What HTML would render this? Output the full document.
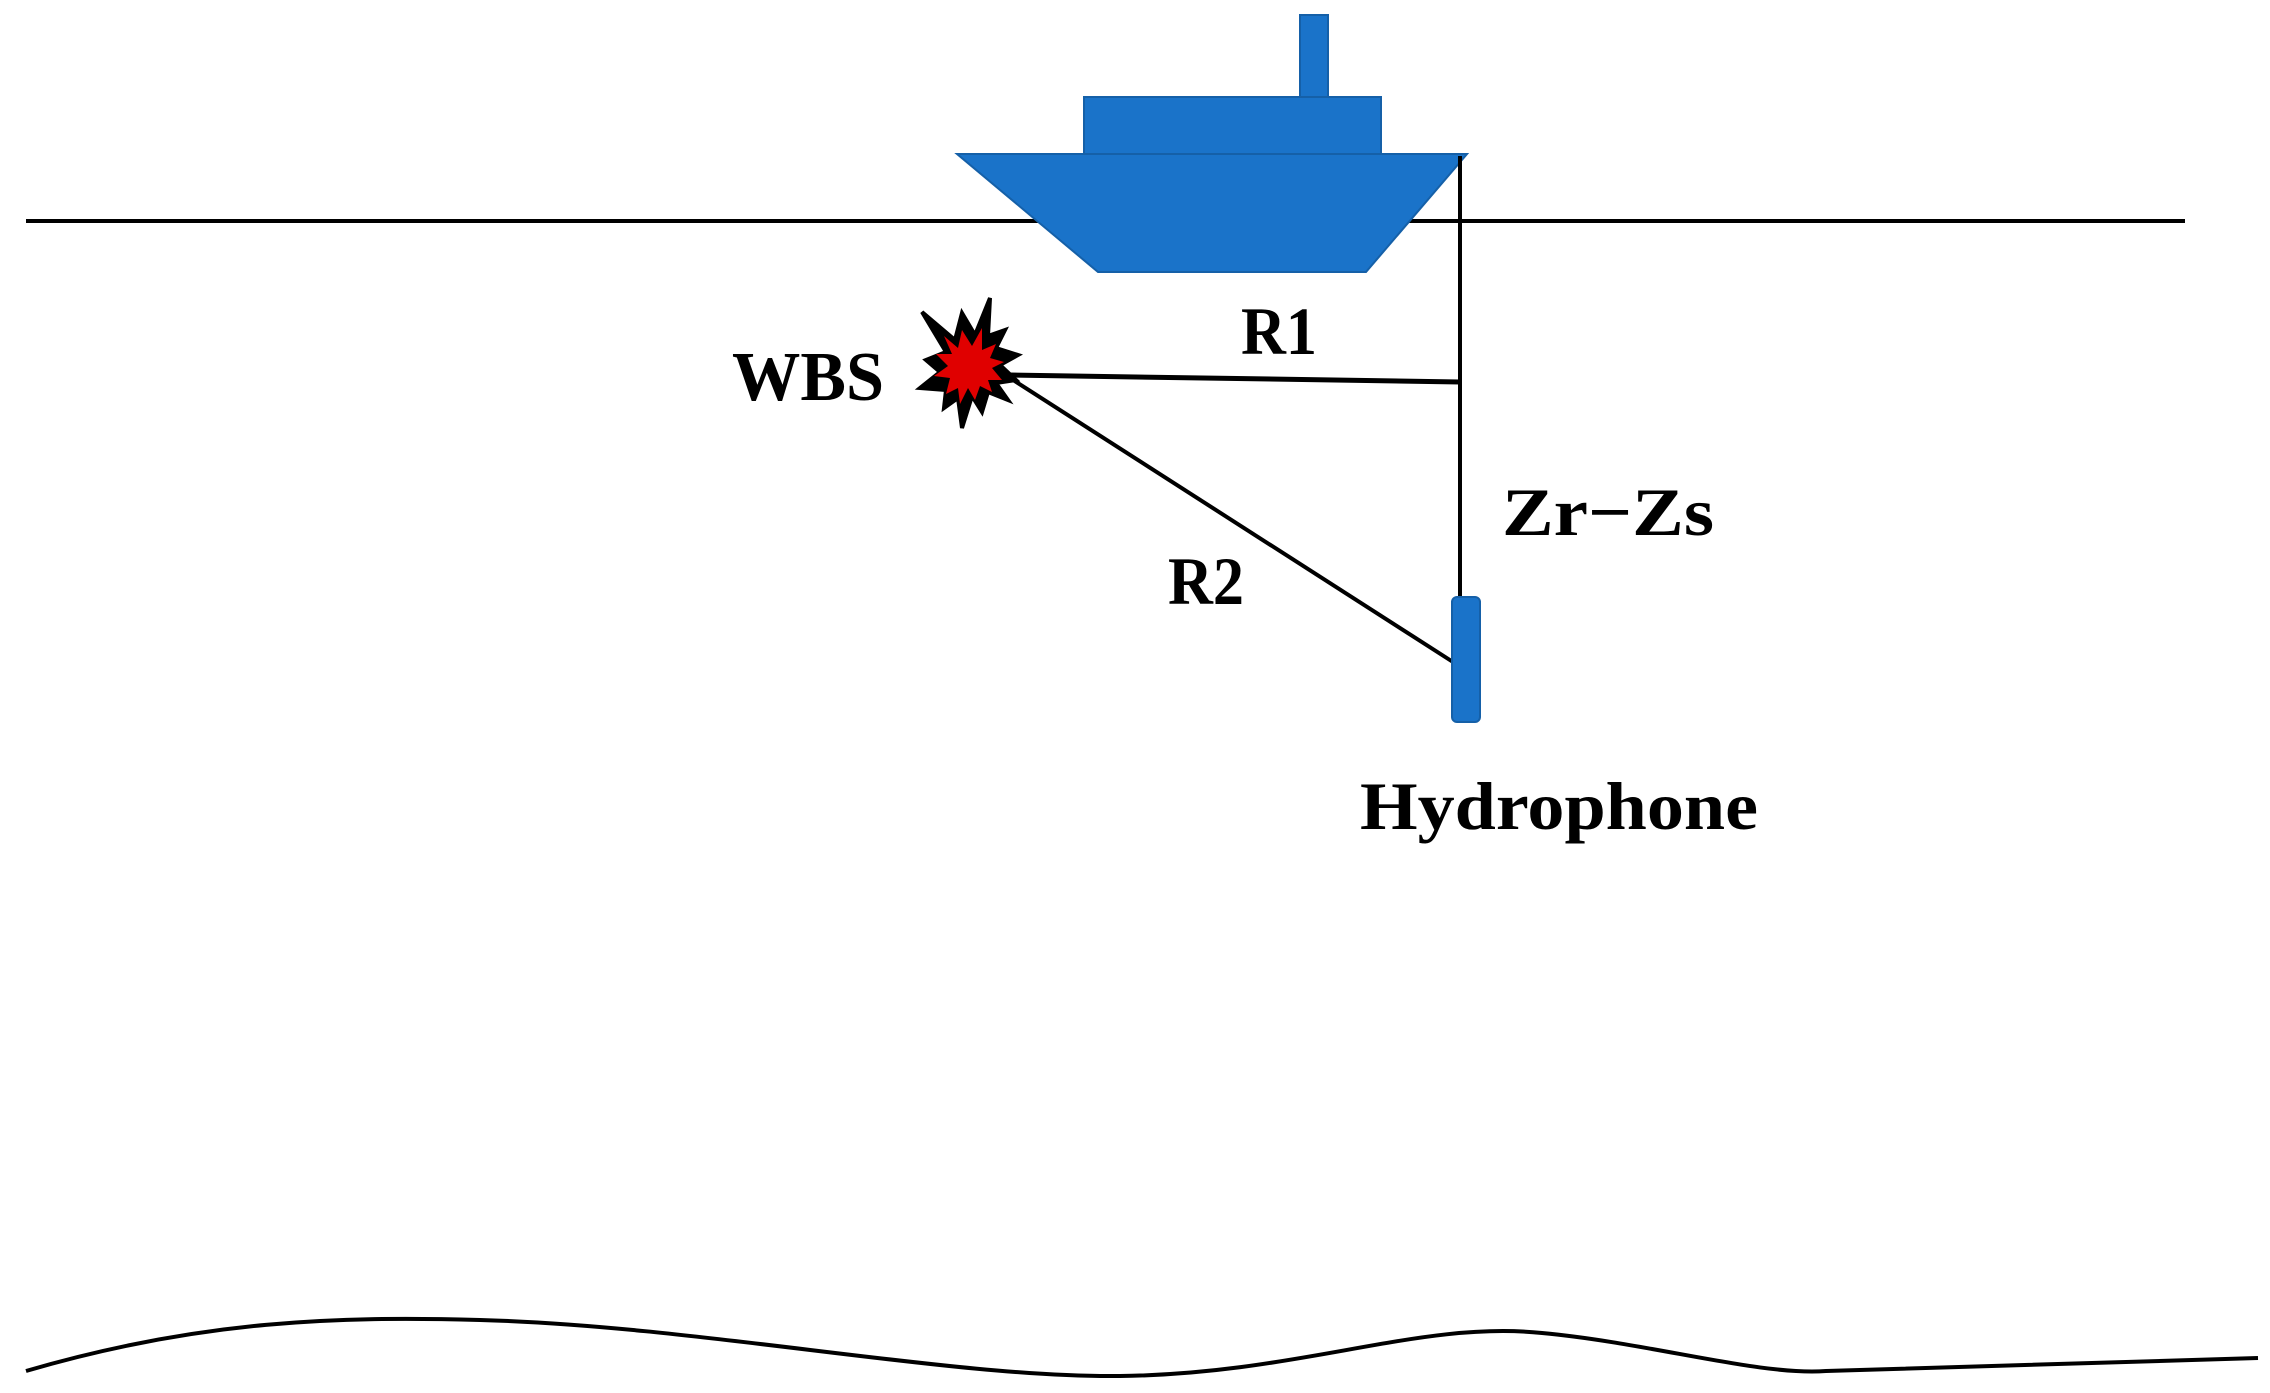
<!DOCTYPE html>
<html><head><meta charset="utf-8"><style>
html,body{margin:0;padding:0;background:#fff;}
svg{display:block;}
text{font-family:"Liberation Serif",serif;font-weight:bold;fill:#000;}
</style></head><body>
<svg width="2270" height="1393" viewBox="0 0 2270 1393" xmlns="http://www.w3.org/2000/svg">
<rect width="2270" height="1393" fill="#fff"/>
<line x1="26" y1="221" x2="2185" y2="221" stroke="#000" stroke-width="4"/>
<rect x="1300" y="15" width="28" height="84" fill="#1a73c9" stroke="#1560a8" stroke-width="2"/>
<rect x="1084" y="97" width="297" height="57" fill="#1a73c9" stroke="#1560a8" stroke-width="2"/>
<polygon points="957,154 1467,154 1366,272 1098,272" fill="#1a73c9" stroke="#1560a8" stroke-width="2"/>
<line x1="1460" y1="156" x2="1460" y2="600" stroke="#000" stroke-width="4"/>
<line x1="1010" y1="375" x2="1460" y2="382" stroke="#000" stroke-width="5"/>
<line x1="1010" y1="378" x2="1453" y2="662" stroke="#000" stroke-width="4"/>
<rect x="1452" y="597" width="28" height="125" rx="5" fill="#1a73c9" stroke="#1560a8" stroke-width="2"/>
<polygon points="922,312 955,340 962,313 975,335 990,298 988,336 1005,330 996,348 1018,355 1000,365 1016,380 996,383 1008,400 988,392 982,412 972,396 962,428 958,398 944,408 946,390 920,388 940,372 926,360 946,352" fill="#000" stroke="#000" stroke-width="4" stroke-linejoin="miter"/>
<polygon points="944,336 958,348 962,330 972,346 982,328 982,350 996,344 990,358 1004,362 992,368 1002,380 988,380 992,392 980,386 975,400 968,388 960,404 958,388 946,394 950,378 934,376 948,366 936,354 952,354" fill="#e00000"/>
<path d="M26,1371 C200,1320 340,1316 480,1320 C700,1326 950,1378 1120,1376 C1300,1374 1420,1320 1542,1333 C1650,1343 1760,1376 1826,1371 L2258,1358" fill="none" stroke="#000" stroke-width="4"/>
<text x="732" y="400" font-size="70" textLength="152" lengthAdjust="spacingAndGlyphs">WBS</text>
<text x="1241" y="354" font-size="68" textLength="76" lengthAdjust="spacingAndGlyphs">R1</text>
<text x="1168" y="604" font-size="68" textLength="76" lengthAdjust="spacingAndGlyphs">R2</text>
<text x="1502" y="535" font-size="68" textLength="212" lengthAdjust="spacingAndGlyphs">Zr−Zs</text>
<text x="1360" y="829" font-size="68" textLength="398" lengthAdjust="spacingAndGlyphs">Hydrophone</text>
</svg>
</body></html>
